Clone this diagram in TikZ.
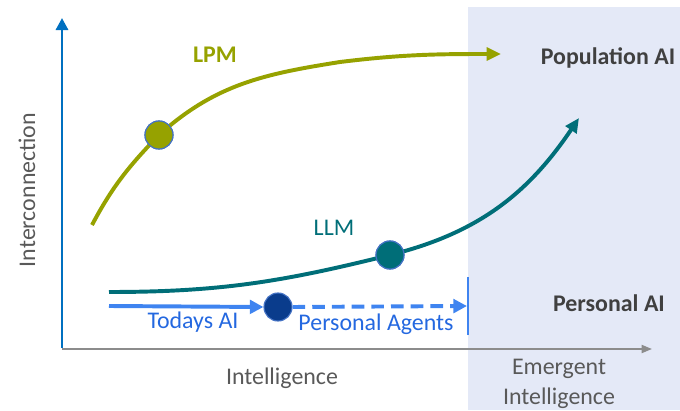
\documentclass[tikz,border=0pt]{standalone}
\usepackage{fontspec}
\setmainfont{Carlito}
\usepackage{xcolor}
\usepackage{tikz}
\usetikzlibrary{arrows.meta,positioning}
\definecolor{lpmc}{HTML}{96A200}
\definecolor{llmc}{HTML}{006E78}
\definecolor{agc}{HTML}{3F84F0}
\definecolor{agtxt}{HTML}{2468E0}
\definecolor{navyc}{HTML}{0A3C8C}
\definecolor{edgec}{HTML}{4472C4}
\definecolor{axc}{HTML}{0070C0}
\definecolor{grayax}{HTML}{8C8C8C}
\definecolor{txtc}{HTML}{595959}
\definecolor{headc}{HTML}{404040}
\definecolor{zonebg}{HTML}{E4E9F7}
\tikzset{
  big/.style={font=\fontsize{17}{20}\selectfont},
  crv/.style={line width=2.8pt},
  ar/.style={-{Triangle[length=3.6mm,width=3.2mm]}},
  dot/.style={circle,draw=edgec,line width=0.8pt,minimum size=7mm,inner sep=0pt},
  axlbl/.style={big,txtc,align=center},
  zone/.style={headc,font=\fontsize{17}{20}\selectfont\bfseries}
}

\begin{document}
\begin{tikzpicture}[x=0.025cm,y=0.025cm]
\useasboundingbox (0,0) rectangle (680,410);
% emergent region
\fill[zonebg] (468,0) rectangle (680,403);

% axes
\coordinate (orig) at (62,61);
\coordinate (ytop) at (62,392);
\coordinate (xend) at (652,61);
\draw[grayax,line width=1.4pt,-{Triangle[length=2.6mm,width=2mm]}] (orig) -- (xend);
\draw[axc,line width=2.1pt,-{Triangle[length=3mm,width=3mm]}] (62,62) -- (ytop);
\node[axlbl,rotate=90] (ylab) at (27,220) {Interconnection};
\node[axlbl] (xlab) at (282,32) {Intelligence};
\node[axlbl,font=\fontsize{17}{21}\selectfont] (emlab) at (559,26) {Emergent\\Intelligence};

% LPM curve
\coordinate (lpmstart) at (92,185);
\coordinate (lpmmid) at (340,348);
\coordinate (lpmend) at (501,356);
\node[dot,fill=lpmc] (lpmdot) at (159,275) {};
\draw[crv,lpmc,ar] (lpmstart) to[out=62,in=226] (lpmdot.center)
  to[out=42,in=189] (lpmmid) to[out=7,in=180] (lpmend);
\node[dot,fill=lpmc] at (lpmdot) {};
\node[lpmc,font=\fontsize{17}{20}\selectfont\bfseries] (lpmlab) at (215,355) {LPM};

% LLM curve
\coordinate (llmstart) at (109,118);
\coordinate (llmend) at (579,292);
\node[dot,fill=llmc] (llmdot) at (390,155) {};
\draw[crv,llmc,ar] (llmstart) to[out=0,in=194] (llmdot.center)
  to[out=14,in=236] (llmend);
\node[dot,fill=llmc] at (llmdot) {};
\node[big,llmc] (llmlab) at (334,182) {LLM};

% todays AI and personal agents
\coordinate (today) at (109,104);
\coordinate (agend) at (467,104);
\node[dot,fill=navyc] (nowdot) at (278,103) {};
\draw[agc,line width=2.8pt,-{Triangle[length=3.4mm,width=3.4mm]}] (today) -- (nowdot.west);
\draw[agc,line width=2.8pt,dash pattern=on 9pt off 5pt,-{Triangle[length=3.4mm,width=3.4mm]}] (nowdot.east) -- (agend);
\draw[agc,line width=1.4pt] (468,75) -- (468,133);
\node[big,agtxt] (todaylab) at (193,88) {Todays AI};
\node[big,agtxt] (agentlab) at (376,86) {Personal Agents};

% zone titles
\node[zone] (popai) at (608,352) {Population AI};
\node[zone] (perai) at (609,107) {Personal AI};
\end{tikzpicture}
\end{document}
